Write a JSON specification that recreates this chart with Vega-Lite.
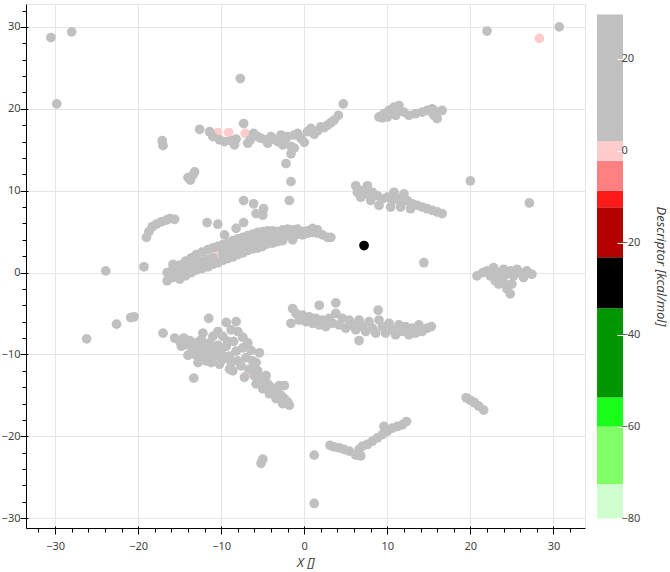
{
  "$schema": "https://vega.github.io/schema/vega-lite/v6.json",
  "background": "white",
  "padding": {"left": 0, "top": 3, "right": 0, "bottom": 0},
  "spacing": 11,
  "config": {
    "view": {"stroke": "#e5e5e5"},
    "font": "Noto Sans",
    "axis": {"labelFont": "Noto Sans", "titleFont": "Noto Sans", "labelColor": "#444", "labelFontSize": 11, "titleColor": "#444", "titleFontSize": 13, "titleFontWeight": "normal", "titleFontStyle": "italic"}
  },
  "datasets": {
    "pts": [
      {"x": -30.5, "y": 28.7, "d": 10}, {"x": -28.0, "y": 29.4, "d": 10}, {"x": -29.8, "y": 20.6, "d": 10}, {"x": -7.7, "y": 23.7, "d": 10},
      {"x": 22.0, "y": 29.5, "d": 10}, {"x": 30.7, "y": 30.0, "d": 10}, {"x": 27.1, "y": 8.5, "d": 10}, {"x": 20.0, "y": 11.2, "d": 10},
      {"x": 14.4, "y": 1.2, "d": 10}, {"x": -23.9, "y": 0.2, "d": 10}, {"x": -19.3, "y": 0.7, "d": 10}, {"x": -26.2, "y": -8.1, "d": 10},
      {"x": -22.6, "y": -6.3, "d": 10}, {"x": -20.9, "y": -5.5, "d": 10}, {"x": -20.5, "y": -5.4, "d": 10}, {"x": -17.1, "y": 16.1, "d": 10},
      {"x": -17.0, "y": 15.5, "d": 10}, {"x": -1.6, "y": 11.1, "d": 10}, {"x": 1.2, "y": -22.3, "d": 10}, {"x": 1.2, "y": -28.2, "d": 10},
      {"x": -5.0, "y": -22.8, "d": 10}, {"x": -5.2, "y": -23.3, "d": 10}, {"x": -17.0, "y": -7.4, "d": 10},
      {"x": -13.4, "y": 11.9, "d": 10}, {"x": -13.7, "y": 11.3, "d": 10}, {"x": -13.2, "y": 12.3, "d": 10}, {"x": -14.0, "y": 11.6, "d": 10},

      {"x": -10.4, "y": 17.1, "d": 0}, {"x": -9.1, "y": 17.1, "d": 0}, {"x": -7.1, "y": 17.0, "d": 0},
      {"x": -12.6, "y": 17.5, "d": 10}, {"x": -11.4, "y": 17.2, "d": 10}, {"x": -11.0, "y": 16.6, "d": 10}, {"x": -10.2, "y": 16.2, "d": 10},
      {"x": -9.6, "y": 16.0, "d": 10}, {"x": -8.8, "y": 16.1, "d": 10}, {"x": -8.2, "y": 16.3, "d": 10}, {"x": -7.3, "y": 18.2, "d": 10},
      {"x": -6.5, "y": 16.2, "d": 10}, {"x": -6.1, "y": 17.0, "d": 10}, {"x": -5.6, "y": 16.6, "d": 10}, {"x": -5.2, "y": 16.4, "d": 10},
      {"x": -4.6, "y": 16.2, "d": 10}, {"x": -4.0, "y": 16.6, "d": 10}, {"x": -3.7, "y": 16.3, "d": 10}, {"x": -3.2, "y": 16.0, "d": 10},
      {"x": -2.8, "y": 16.8, "d": 10}, {"x": -2.4, "y": 16.1, "d": 10}, {"x": -2.0, "y": 16.6, "d": 10}, {"x": -1.6, "y": 15.4, "d": 10},
      {"x": -1.6, "y": 14.5, "d": 10}, {"x": -2.2, "y": 13.3, "d": 10}, {"x": -1.2, "y": 16.8, "d": 10}, {"x": -0.8, "y": 17.0, "d": 10},
      {"x": -0.4, "y": 16.4, "d": 10}, {"x": 0.0, "y": 15.9, "d": 10}, {"x": 0.4, "y": 17.2, "d": 10}, {"x": 0.8, "y": 17.6, "d": 10},
      {"x": 1.2, "y": 16.9, "d": 10}, {"x": 1.6, "y": 17.3, "d": 10}, {"x": 2.0, "y": 17.8, "d": 10}, {"x": 2.4, "y": 17.7, "d": 10},
      {"x": 2.8, "y": 18.0, "d": 10}, {"x": 3.2, "y": 18.3, "d": 10}, {"x": 3.6, "y": 18.6, "d": 10}, {"x": 4.1, "y": 19.2, "d": 10},
      {"x": 4.7, "y": 20.6, "d": 10}, {"x": -1.2, "y": 15.2, "d": 10}, {"x": -2.6, "y": 15.6, "d": 10}, {"x": -4.4, "y": 15.8, "d": 10},
      {"x": -8.4, "y": 15.6, "d": 10}, {"x": -6.8, "y": 15.8, "d": 10},

      {"x": -19.0, "y": 4.3, "d": 10}, {"x": -18.7, "y": 5.0, "d": 10}, {"x": -18.3, "y": 5.6, "d": 10}, {"x": -17.8, "y": 5.9, "d": 10},
      {"x": -17.2, "y": 6.2, "d": 10}, {"x": -16.6, "y": 6.4, "d": 10}, {"x": -16.2, "y": 6.6, "d": 10}, {"x": -15.6, "y": 6.5, "d": 10},
      {"x": -10.4, "y": 2.1, "d": 0},
      {"x": -16.5, "y": -1.0, "d": 10}, {"x": -16.5, "y": 0.0, "d": 10}, {"x": -15.8, "y": -0.6, "d": 10}, {"x": -15.8, "y": 0.5, "d": 10},
      {"x": -15.8, "y": 1.0, "d": 10}, {"x": -15.0, "y": 0.0, "d": 10}, {"x": -15.0, "y": 0.9, "d": 10}, {"x": -15.0, "y": -0.8, "d": 10},
      {"x": -14.3, "y": 0.5, "d": 10}, {"x": -14.3, "y": 1.4, "d": 10}, {"x": -14.3, "y": -0.4, "d": 10}, {"x": -13.6, "y": 0.8, "d": 10},
      {"x": -13.6, "y": 1.8, "d": 10}, {"x": -13.6, "y": 0.0, "d": 10}, {"x": -13.0, "y": 1.2, "d": 10}, {"x": -13.0, "y": 2.2, "d": 10},
      {"x": -13.0, "y": 0.3, "d": 10}, {"x": -12.3, "y": 1.3, "d": 10}, {"x": -12.3, "y": 2.5, "d": 10}, {"x": -12.3, "y": 0.5, "d": 10},
      {"x": -11.6, "y": 1.6, "d": 10}, {"x": -11.6, "y": 2.8, "d": 10}, {"x": -11.6, "y": 0.7, "d": 10}, {"x": -11.0, "y": 1.8, "d": 10},
      {"x": -11.0, "y": 3.0, "d": 10}, {"x": -11.0, "y": 1.0, "d": 10}, {"x": -10.4, "y": 3.2, "d": 10}, {"x": -10.4, "y": 1.2, "d": 10},
      {"x": -9.8, "y": 2.3, "d": 10}, {"x": -9.8, "y": 3.4, "d": 10}, {"x": -9.8, "y": 1.5, "d": 10}, {"x": -9.2, "y": 2.5, "d": 10},
      {"x": -9.2, "y": 3.6, "d": 10}, {"x": -9.2, "y": 1.7, "d": 10}, {"x": -8.6, "y": 2.8, "d": 10}, {"x": -8.6, "y": 3.9, "d": 10},
      {"x": -8.6, "y": 1.9, "d": 10}, {"x": -8.0, "y": 3.0, "d": 10}, {"x": -8.0, "y": 4.1, "d": 10}, {"x": -8.0, "y": 2.2, "d": 10},
      {"x": -7.4, "y": 3.2, "d": 10}, {"x": -7.4, "y": 4.3, "d": 10}, {"x": -7.4, "y": 2.4, "d": 10}, {"x": -6.8, "y": 3.4, "d": 10},
      {"x": -6.8, "y": 4.5, "d": 10}, {"x": -6.8, "y": 2.7, "d": 10}, {"x": -6.2, "y": 3.6, "d": 10}, {"x": -6.2, "y": 4.7, "d": 10},
      {"x": -6.2, "y": 2.9, "d": 10}, {"x": -5.6, "y": 3.8, "d": 10}, {"x": -5.6, "y": 4.9, "d": 10}, {"x": -5.6, "y": 3.0, "d": 10},
      {"x": -5.0, "y": 4.0, "d": 10}, {"x": -5.0, "y": 5.0, "d": 10}, {"x": -5.0, "y": 3.2, "d": 10}, {"x": -4.4, "y": 4.2, "d": 10},
      {"x": -4.4, "y": 5.1, "d": 10}, {"x": -4.4, "y": 3.5, "d": 10}, {"x": -3.8, "y": 4.3, "d": 10}, {"x": -3.8, "y": 5.1, "d": 10},
      {"x": -3.8, "y": 3.6, "d": 10}, {"x": -3.2, "y": 4.4, "d": 10}, {"x": -3.2, "y": 5.0, "d": 10}, {"x": -3.2, "y": 3.8, "d": 10},
      {"x": -2.6, "y": 4.5, "d": 10}, {"x": -2.6, "y": 5.2, "d": 10}, {"x": -2.6, "y": 3.9, "d": 10}, {"x": -2.0, "y": 4.6, "d": 10},
      {"x": -2.0, "y": 5.3, "d": 10}, {"x": -1.4, "y": 4.6, "d": 10}, {"x": -1.4, "y": 5.2, "d": 10}, {"x": -1.4, "y": 4.0, "d": 10},
      {"x": -0.8, "y": 4.7, "d": 10}, {"x": -0.8, "y": 5.3, "d": 10}, {"x": -0.2, "y": 4.6, "d": 10}, {"x": -0.2, "y": 5.0, "d": 10},
      {"x": 0.4, "y": 4.8, "d": 10}, {"x": 0.4, "y": 5.1, "d": 10}, {"x": 1.0, "y": 4.9, "d": 10}, {"x": 1.0, "y": 5.4, "d": 10},
      {"x": 1.6, "y": 4.8, "d": 10}, {"x": 1.6, "y": 5.2, "d": 10}, {"x": 2.2, "y": 4.6, "d": 10}, {"x": 2.8, "y": 4.3, "d": 10},
      {"x": 3.2, "y": 4.3, "d": 10},
      {"x": -7.3, "y": 8.8, "d": 10}, {"x": -6.1, "y": 8.4, "d": 10}, {"x": -4.9, "y": 7.8, "d": 10}, {"x": -5.8, "y": 7.2, "d": 10},
      {"x": -5.0, "y": 7.0, "d": 10}, {"x": -1.8, "y": 8.8, "d": 10}, {"x": -11.7, "y": 6.1, "d": 10}, {"x": -10.4, "y": 5.9, "d": 10},
      {"x": -7.3, "y": 6.1, "d": 10}, {"x": -8.2, "y": 5.4, "d": 10}, {"x": -9.6, "y": 4.6, "d": 10},

      {"x": -6.8, "y": -12.3, "d": 0},
      {"x": -15.6, "y": -8.0, "d": 10}, {"x": -15.0, "y": -8.4, "d": 10}, {"x": -14.5, "y": -8.0, "d": 10}, {"x": -14.2, "y": -8.8, "d": 10},
      {"x": -13.8, "y": -8.3, "d": 10}, {"x": -13.5, "y": -9.2, "d": 10}, {"x": -13.0, "y": -8.6, "d": 10}, {"x": -12.8, "y": -9.5, "d": 10},
      {"x": -12.4, "y": -8.2, "d": 10}, {"x": -12.0, "y": -9.0, "d": 10}, {"x": -11.8, "y": -9.9, "d": 10}, {"x": -11.4, "y": -8.6, "d": 10},
      {"x": -11.0, "y": -9.4, "d": 10}, {"x": -10.8, "y": -10.2, "d": 10}, {"x": -10.4, "y": -8.9, "d": 10}, {"x": -10.0, "y": -9.8, "d": 10},
      {"x": -9.8, "y": -10.6, "d": 10}, {"x": -9.4, "y": -9.0, "d": 10}, {"x": -9.0, "y": -10.2, "d": 10}, {"x": -8.8, "y": -11.0, "d": 10},
      {"x": -8.5, "y": -8.4, "d": 10}, {"x": -8.2, "y": -9.6, "d": 10}, {"x": -8.0, "y": -10.8, "d": 10}, {"x": -7.6, "y": -11.4, "d": 10},
      {"x": -7.4, "y": -9.2, "d": 10}, {"x": -7.0, "y": -10.4, "d": 10}, {"x": -6.6, "y": -11.8, "d": 10}, {"x": -6.2, "y": -10.8, "d": 10},
      {"x": -6.0, "y": -12.6, "d": 10}, {"x": -5.6, "y": -12.0, "d": 10}, {"x": -5.2, "y": -12.8, "d": 10}, {"x": -4.8, "y": -13.2, "d": 10},
      {"x": -4.4, "y": -13.6, "d": 10}, {"x": -4.0, "y": -14.0, "d": 10}, {"x": -3.6, "y": -14.2, "d": 10}, {"x": -3.2, "y": -14.6, "d": 10},
      {"x": -2.8, "y": -15.0, "d": 10}, {"x": -2.4, "y": -15.4, "d": 10}, {"x": -2.0, "y": -15.8, "d": 10}, {"x": -1.8, "y": -16.2, "d": 10},
      {"x": -4.6, "y": -12.6, "d": 10}, {"x": -3.0, "y": -13.8, "d": 10}, {"x": -11.5, "y": -5.6, "d": 10}, {"x": -9.4, "y": -6.1, "d": 10},
      {"x": -8.2, "y": -6.0, "d": 10}, {"x": -8.8, "y": -7.0, "d": 10}, {"x": -7.4, "y": -7.9, "d": 10}, {"x": -10.4, "y": -7.2, "d": 10},
      {"x": -11.0, "y": -7.8, "d": 10}, {"x": -6.4, "y": -9.5, "d": 10}, {"x": -2.4, "y": -13.8, "d": 10}, {"x": -14.0, "y": -10.1, "d": 10},
      {"x": -13.3, "y": -12.9, "d": 10}, {"x": -12.8, "y": -11.0, "d": 10},
      {"x": -12.2, "y": -7.4, "d": 10}, {"x": -9.8, "y": -7.8, "d": 10}, {"x": -8.0, "y": -7.2, "d": 10}, {"x": -6.8, "y": -8.6, "d": 10},
      {"x": -9.2, "y": -8.4, "d": 10}, {"x": -11.8, "y": -10.8, "d": 10}, {"x": -10.2, "y": -11.2, "d": 10}, {"x": -8.6, "y": -12.0, "d": 10},
      {"x": -5.8, "y": -11.0, "d": 10}, {"x": -5.4, "y": -9.8, "d": 10},
      {"x": -14.8, "y": -9.0, "d": 10}, {"x": -13.2, "y": -10.0, "d": 10}, {"x": -12.6, "y": -10.4, "d": 10}, {"x": -11.2, "y": -11.0, "d": 10},
      {"x": -9.0, "y": -11.8, "d": 10}, {"x": -7.2, "y": -12.8, "d": 10}, {"x": -5.8, "y": -13.6, "d": 10}, {"x": -5.0, "y": -14.2, "d": 10},
      {"x": -4.2, "y": -14.8, "d": 10}, {"x": -3.4, "y": -15.4, "d": 10}, {"x": -2.6, "y": -16.0, "d": 10},

      {"x": -1.4, "y": -4.4, "d": 10}, {"x": -1.6, "y": -6.2, "d": 10}, {"x": -1.0, "y": -5.0, "d": 10}, {"x": -0.6, "y": -5.8, "d": 10},
      {"x": -0.2, "y": -5.2, "d": 10}, {"x": 0.2, "y": -6.0, "d": 10}, {"x": 0.6, "y": -5.4, "d": 10}, {"x": 1.0, "y": -6.2, "d": 10},
      {"x": 1.4, "y": -5.6, "d": 10}, {"x": 1.8, "y": -4.0, "d": 10}, {"x": 1.8, "y": -6.4, "d": 10}, {"x": 2.2, "y": -5.8, "d": 10},
      {"x": 2.6, "y": -6.6, "d": 10}, {"x": 3.0, "y": -5.6, "d": 10}, {"x": 3.4, "y": -6.2, "d": 10}, {"x": 3.8, "y": -3.7, "d": 10},
      {"x": 3.8, "y": -5.0, "d": 10}, {"x": 4.2, "y": -6.4, "d": 10}, {"x": 4.6, "y": -5.6, "d": 10}, {"x": 5.0, "y": -6.8, "d": 10},
      {"x": 5.4, "y": -5.8, "d": 10}, {"x": 5.8, "y": -6.4, "d": 10}, {"x": 6.2, "y": -7.0, "d": 10}, {"x": 6.6, "y": -8.3, "d": 10},
      {"x": 6.6, "y": -5.8, "d": 10}, {"x": 7.0, "y": -6.6, "d": 10}, {"x": 7.4, "y": -7.2, "d": 10}, {"x": 7.8, "y": -6.0, "d": 10},
      {"x": 8.2, "y": -6.8, "d": 10}, {"x": 8.6, "y": -7.4, "d": 10}, {"x": 8.9, "y": -4.6, "d": 10}, {"x": 9.0, "y": -5.8, "d": 10},
      {"x": 9.4, "y": -6.6, "d": 10}, {"x": 9.8, "y": -7.4, "d": 10}, {"x": 10.2, "y": -6.2, "d": 10}, {"x": 10.6, "y": -7.0, "d": 10},
      {"x": 11.0, "y": -7.6, "d": 10}, {"x": 11.4, "y": -6.4, "d": 10}, {"x": 11.8, "y": -7.2, "d": 10}, {"x": 12.2, "y": -6.6, "d": 10},
      {"x": 12.6, "y": -7.6, "d": 10}, {"x": 13.0, "y": -6.8, "d": 10}, {"x": 13.4, "y": -7.4, "d": 10}, {"x": 13.8, "y": -6.4, "d": 10},
      {"x": 14.2, "y": -7.2, "d": 10}, {"x": 14.8, "y": -6.8, "d": 10}, {"x": 15.3, "y": -6.6, "d": 10},

      {"x": 6.2, "y": 10.6, "d": 10}, {"x": 6.4, "y": 9.8, "d": 10}, {"x": 7.0, "y": 10.0, "d": 10}, {"x": 7.6, "y": 9.6, "d": 10},
      {"x": 8.2, "y": 9.8, "d": 10}, {"x": 8.8, "y": 9.4, "d": 10}, {"x": 9.4, "y": 9.0, "d": 10}, {"x": 10.0, "y": 9.2, "d": 10},
      {"x": 10.6, "y": 8.8, "d": 10}, {"x": 11.2, "y": 9.0, "d": 10}, {"x": 11.8, "y": 8.6, "d": 10}, {"x": 12.4, "y": 8.8, "d": 10},
      {"x": 13.0, "y": 8.4, "d": 10}, {"x": 13.6, "y": 8.2, "d": 10}, {"x": 14.2, "y": 8.0, "d": 10}, {"x": 14.8, "y": 7.8, "d": 10},
      {"x": 15.4, "y": 7.6, "d": 10}, {"x": 16.0, "y": 7.4, "d": 10}, {"x": 16.6, "y": 7.2, "d": 10}, {"x": 9.0, "y": 8.2, "d": 10},
      {"x": 10.4, "y": 8.0, "d": 10}, {"x": 11.6, "y": 8.0, "d": 10}, {"x": 12.8, "y": 7.8, "d": 10}, {"x": 8.0, "y": 8.8, "d": 10},
      {"x": 7.6, "y": 10.6, "d": 10}, {"x": 6.8, "y": 9.2, "d": 10}, {"x": 12.0, "y": 9.6, "d": 10}, {"x": 10.8, "y": 9.8, "d": 10},

      {"x": 9.0, "y": 19.0, "d": 10}, {"x": 9.6, "y": 19.4, "d": 10}, {"x": 10.2, "y": 19.8, "d": 10}, {"x": 10.8, "y": 20.2, "d": 10},
      {"x": 11.4, "y": 20.4, "d": 10}, {"x": 11.2, "y": 19.6, "d": 10}, {"x": 12.0, "y": 19.6, "d": 10}, {"x": 12.6, "y": 19.2, "d": 10},
      {"x": 13.4, "y": 19.4, "d": 10}, {"x": 14.2, "y": 19.6, "d": 10}, {"x": 14.8, "y": 19.8, "d": 10}, {"x": 15.4, "y": 20.0, "d": 10},
      {"x": 16.0, "y": 19.6, "d": 10}, {"x": 16.6, "y": 19.8, "d": 10}, {"x": 15.6, "y": 19.2, "d": 10}, {"x": 16.0, "y": 18.8, "d": 10},
      {"x": 10.0, "y": 19.0, "d": 10}, {"x": 9.4, "y": 18.9, "d": 10}, {"x": 11.0, "y": 19.2, "d": 10},

      {"x": 22.0, "y": 0.2, "d": 10}, {"x": 22.4, "y": -0.4, "d": 10}, {"x": 22.8, "y": 0.6, "d": 10}, {"x": 23.2, "y": 0.0, "d": 10},
      {"x": 23.6, "y": -0.6, "d": 10}, {"x": 24.0, "y": 0.4, "d": 10}, {"x": 24.4, "y": -0.2, "d": 10}, {"x": 24.8, "y": 0.2, "d": 10},
      {"x": 25.2, "y": -0.4, "d": 10}, {"x": 25.6, "y": 0.4, "d": 10}, {"x": 26.0, "y": 0.0, "d": 10}, {"x": 26.4, "y": -0.6, "d": 10},
      {"x": 26.8, "y": 0.2, "d": 10}, {"x": 27.4, "y": -0.2, "d": 10}, {"x": 24.0, "y": -1.2, "d": 10}, {"x": 24.4, "y": -2.0, "d": 10},
      {"x": 24.8, "y": -2.6, "d": 10}, {"x": 23.4, "y": -1.4, "d": 10}, {"x": 25.0, "y": -1.4, "d": 10}, {"x": 21.5, "y": 0.0, "d": 10},
      {"x": 20.8, "y": -0.4, "d": 10}, {"x": 23.0, "y": -1.0, "d": 10},

      {"x": 3.1, "y": -21.1, "d": 10}, {"x": 3.6, "y": -21.3, "d": 10}, {"x": 4.2, "y": -21.4, "d": 10}, {"x": 4.8, "y": -21.6, "d": 10},
      {"x": 5.4, "y": -21.8, "d": 10}, {"x": 6.2, "y": -22.3, "d": 10}, {"x": 6.6, "y": -21.6, "d": 10}, {"x": 7.0, "y": -21.2, "d": 10},
      {"x": 7.6, "y": -21.0, "d": 10}, {"x": 8.2, "y": -20.6, "d": 10}, {"x": 8.8, "y": -20.2, "d": 10}, {"x": 9.4, "y": -19.8, "d": 10},
      {"x": 10.0, "y": -19.4, "d": 10}, {"x": 10.6, "y": -19.0, "d": 10}, {"x": 11.2, "y": -18.8, "d": 10}, {"x": 11.8, "y": -18.6, "d": 10},
      {"x": 12.3, "y": -18.2, "d": 10}, {"x": 9.6, "y": -18.8, "d": 10}, {"x": 6.8, "y": -22.4, "d": 10},
      {"x": 19.5, "y": -15.3, "d": 10}, {"x": 20.0, "y": -15.6, "d": 10}, {"x": 20.5, "y": -15.9, "d": 10}, {"x": 21.0, "y": -16.3, "d": 10},
      {"x": 21.6, "y": -16.8, "d": 10},

      {"x": 28.3, "y": 28.6, "d": 0}, {"x": 7.2, "y": 3.3, "d": -30}
    ],
    "bar": [
      {"lo": -80, "hi": -72.5, "d": -76}, {"lo": -72.5, "hi": -60, "d": -66}, {"lo": -60, "hi": -53.7, "d": -57},
      {"lo": -53.7, "hi": -34.3, "d": -44}, {"lo": -34.3, "hi": -23.2, "d": -28}, {"lo": -23.2, "hi": -12.3, "d": -18},
      {"lo": -12.3, "hi": -8.7, "d": -10.5}, {"lo": -8.7, "hi": -2.2, "d": -5.5}, {"lo": -2.2, "hi": 2.1, "d": 0},
      {"lo": 2.1, "hi": 29.6, "d": 15}
    ]
  },
  "hconcat": [
    {
      "width": 559,
      "height": 524,
      "data": {"name": "pts"},
      "layer": [
        {
          "mark": {"type": "circle", "size": 95, "opacity": 1},
          "encoding": {
            "x": {"field": "x", "type": "quantitative", "scale": {"domain": [-33.5, 33.8], "nice": false, "zero": false},
              "axis": {"orient": "bottom", "values": [-30, -20, -10, 0, 10, 20, 30], "title": "X []", "grid": true, "gridColor": "#e5e5e5", "domainColor": "black", "tickColor": "black", "tickSize": 6, "labelPadding": 6, "titlePadding": 5}},
            "y": {"field": "y", "type": "quantitative", "scale": {"domain": [-31.2, 32.8], "nice": false, "zero": false},
              "axis": {"orient": "left", "values": [-30, -20, -10, 0, 10, 20, 30], "title": null, "grid": true, "gridColor": "#e5e5e5", "domainColor": "black", "tickColor": "black", "tickSize": 6, "labelPadding": 0}},
            "color": {"field": "d", "type": "quantitative",
              "scale": {"type": "threshold", "domain": [-72.5, -60, -53.7, -34.3, -23.2, -12.3, -8.7, -2.2, 2.1],
                "range": ["#d0ffd0", "#80ff66", "#1aff1a", "#009600", "#000000", "#b40000", "#ff1a1a", "#ff8080", "#ffcccc", "#c0c0c0"]},
              "legend": null}
          }
        },
        {
          "mark": {"type": "point", "opacity": 0},
          "encoding": {
            "x": {"field": "x", "type": "quantitative", "axis": {"orient": "bottom", "values": [-32, -28, -26, -24, -22, -18, -16, -14, -12, -8, -6, -4, -2, 2, 4, 6, 8, 12, 14, 16, 18, 22, 24, 26, 28, 32], "labels": false, "grid": false, "domain": false, "tickColor": "black", "tickSize": 4, "title": null}},
            "y": {"field": "y", "type": "quantitative", "axis": {"orient": "left", "values": [-28, -26, -24, -22, -18, -16, -14, -12, -8, -6, -4, -2, 2, 4, 6, 8, 12, 14, 16, 18, 22, 24, 26, 28, 32], "labels": false, "grid": false, "domain": false, "tickColor": "black", "tickSize": 4, "title": null}}
          }
        },
        {
          "mark": {"type": "point", "opacity": 0},
          "encoding": {
            "x": {"field": "x", "type": "quantitative", "axis": {"orient": "bottom", "values": [-30, -20, -10, 0, 10, 20, 30], "labels": false, "grid": false, "domain": false, "tickColor": "black", "tickSize": -2, "title": null, "zindex": 1}},
            "y": {"field": "y", "type": "quantitative", "axis": {"orient": "left", "values": [-30, -20, -10, 0, 10, 20, 30], "labels": false, "grid": false, "domain": false, "tickColor": "black", "tickSize": -2, "title": null, "zindex": 1}}
          }
        }
      ],
      "resolve": {"axis": {"x": "independent", "y": "independent"}}
    },
    {
      "width": 26,
      "height": 524,
      "view": {"stroke": null},
      "data": {"name": "bar"},
      "mark": {"type": "rect"},
      "encoding": {
        "y": {"field": "lo", "type": "quantitative", "scale": {"domain": [-82.07, 31.9], "nice": false, "zero": false},
          "axis": {"orient": "right", "values": [-80, -60, -40, -20, 0, 20], "title": "Descriptor [kcal/mol]", "domain": false, "grid": false, "tickColor": "white", "tickSize": -6, "labelPadding": 4, "titlePadding": 14, "zindex": 1}},
        "y2": {"field": "hi"},
        "color": {"field": "d", "type": "quantitative",
          "scale": {"type": "threshold", "domain": [-72.5, -60, -53.7, -34.3, -23.2, -12.3, -8.7, -2.2, 2.1],
            "range": ["#d0ffd0", "#80ff66", "#1aff1a", "#009600", "#000000", "#b40000", "#ff1a1a", "#ff8080", "#ffcccc", "#c0c0c0"]},
          "legend": null}
      }
    }
  ]
}
